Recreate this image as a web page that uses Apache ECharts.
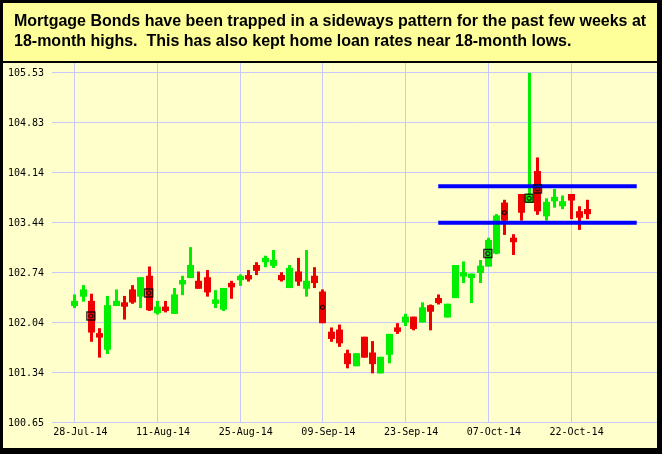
<!DOCTYPE html>
<html><head><meta charset="utf-8">
<script src="https://cdn.jsdelivr.net/npm/echarts@6/dist/echarts.min.js"></script>
<style>html,body{margin:0;padding:0;background:#fff}#c{width:662px;height:454px}</style>
</head><body><div id="c"></div>
<script>
// ---- data ----
const dates = ['28-Jul-14','29-Jul-14','30-Jul-14','31-Jul-14','01-Aug-14','04-Aug-14','05-Aug-14','06-Aug-14','07-Aug-14','08-Aug-14',
  '11-Aug-14','12-Aug-14','13-Aug-14','14-Aug-14','15-Aug-14','18-Aug-14','19-Aug-14','20-Aug-14','21-Aug-14','22-Aug-14',
  '25-Aug-14','26-Aug-14','27-Aug-14','28-Aug-14','29-Aug-14','02-Sep-14','03-Sep-14','04-Sep-14','05-Sep-14','08-Sep-14',
  '09-Sep-14','10-Sep-14','11-Sep-14','12-Sep-14','15-Sep-14','16-Sep-14','17-Sep-14','18-Sep-14','19-Sep-14','22-Sep-14',
  '23-Sep-14','24-Sep-14','25-Sep-14','26-Sep-14','29-Sep-14','30-Sep-14','01-Oct-14','02-Oct-14','03-Oct-14','06-Oct-14',
  '07-Oct-14','08-Oct-14','09-Oct-14','10-Oct-14','14-Oct-14','15-Oct-14','16-Oct-14','17-Oct-14','20-Oct-14','21-Oct-14',
  '22-Oct-14','23-Oct-14','24-Oct-14'];
const opens = [102.30,102.43,102.33,101.88,101.69,102.30,102.31,102.49,102.43,102.68,
  102.20,102.25,102.19,102.60,102.69,102.61,102.66,102.33,102.25,102.58,
  102.66,102.69,102.83,102.91,102.86,102.69,102.55,102.74,102.54,102.68,
  102.46,101.90,101.93,101.60,101.46,101.83,101.61,101.36,101.62,101.96,
  102.07,102.11,102.07,102.27,102.37,102.14,102.41,102.71,102.69,102.76,
  102.85,103.03,103.70,103.21,103.82,103.74,104.14,103.55,103.76,103.69,
  103.82,103.58,103.61];
const closes = [102.33,102.49,101.93,101.86,102.27,102.33,102.29,102.35,102.66,102.24,
  102.25,102.23,102.42,102.62,102.83,102.54,102.49,102.35,102.51,102.56,
  102.68,102.67,102.79,102.93,102.90,102.66,102.79,102.64,102.61,102.62,
  102.06,101.84,101.78,101.49,101.60,101.58,101.49,101.55,101.87,101.94,
  102.11,101.98,102.24,102.22,102.34,102.29,102.83,102.73,102.71,102.82,
  103.18,103.52,103.49,103.19,103.60,103.82,103.62,103.71,103.78,103.72,
  103.77,103.53,103.58];
const lows = [102.25,102.34,101.78,101.56,101.61,102.28,102.09,102.31,102.25,102.21,
  102.16,102.19,102.17,102.43,102.67,102.52,102.41,102.25,102.21,102.38,
  102.56,102.62,102.71,102.82,102.81,102.62,102.53,102.56,102.41,102.53,
  102.04,101.78,101.71,101.41,101.44,101.56,101.34,101.34,101.48,101.89,
  102.00,101.94,102.05,101.94,102.30,102.12,102.39,102.60,102.32,102.60,
  102.83,103.00,103.27,102.99,103.47,103.72,103.55,103.47,103.65,103.63,
  103.49,103.34,103.49];
const highs = [102.44,102.57,102.45,101.97,102.42,102.51,102.42,102.57,102.68,102.83,
  102.35,102.35,102.53,102.70,103.10,102.76,102.78,102.50,102.53,102.63,
  102.72,102.78,102.89,102.98,103.06,102.75,102.85,102.95,103.06,102.82,
  102.51,101.98,102.02,101.67,101.62,101.85,101.79,101.57,101.89,102.04,
  102.17,102.13,102.33,102.30,102.44,102.31,102.85,102.90,102.73,102.92,
  103.23,103.56,103.76,103.28,103.84,105.53,104.35,103.78,103.91,103.82,
  103.84,103.67,103.76];
const boxIdx = [2, 9, 50, 55, 56];
const boxVal = [102.14, 102.46, 103.01, 103.78, 103.91];
const ringIdx = [2, 9, 30, 50, 52, 55, 56];
const ringVal = [102.14, 102.46, 102.26, 103.01, 103.58, 103.78, 103.91];
const bandLevels = [103.95, 103.44];
const bandRange = [44, 68];
const yTickValues = [100.648, 101.345, 102.042, 102.739, 103.436, 104.134, 104.831, 105.528];
const yTickLabels = ['100.65', '101.34', '102.04', '102.74', '103.44', '104.14', '104.83', '105.53'];
const xTickIdx = [0, 10, 20, 30, 40, 50, 60];
const titleText = 'Mortgage Bonds have been trapped in a sideways pattern for the past few weeks at\n18-month highs.  This has also kept home loan rates near 18-month lows.';

// ---- chart ----
const gridColor = '#C8C8FF';
const up = '#00EE00', down = '#EE0000';
const yMin = 100.648, yMax = 105.667;
const chart = echarts.init(document.getElementById('c'), null, {renderer: 'canvas'});

const candleData = dates.map((d, i) => [i, opens[i], closes[i], lows[i], highs[i]]);

function hGrid(params, api) {
  const cs = params.coordSys;
  const y = Math.round(api.coord([0, api.value(1)])[1]) - 0.5;
  return {type: 'line', shape: {x1: cs.x, y1: y, x2: cs.x + cs.width, y2: y}, style: {stroke: gridColor, lineWidth: 1}};
}
function vGrid(params, api) {
  const cs = params.coordSys;
  const x = Math.round(api.coord([api.value(0), yMin])[0]) + 0.5;
  return {type: 'line', shape: {x1: x, y1: cs.y, x2: x, y2: cs.y + cs.height}, style: {stroke: gridColor, lineWidth: 1}};
}
function candle(params, api) {
  const x = api.value(0), o = api.value(1), c = api.value(2), l = api.value(3), h = api.value(4);
  const cx = Math.round(api.coord([x, o])[0]);
  const yo = api.coord([x, o])[1], yc = api.coord([x, c])[1];
  const yl = api.coord([x, l])[1], yh = api.coord([x, h])[1];
  const color = c >= o ? up : down;
  const top = Math.min(yo, yc) - 1.5, bot = Math.max(yo, yc) + 1.5;
  return {type: 'group', children: [
    {type: 'rect', shape: {x: cx - 1, y: yh, width: 3, height: yl - yh}, style: {fill: color}},
    {type: 'rect', shape: {x: cx - 3, y: top, width: 7, height: bot - top}, style: {fill: color}}
  ]};
}

const series = [
  {type: 'custom', data: yTickValues.map(v => [0, v]), encode: {x: 0, y: 1}, renderItem: hGrid, z: 1, silent: true, clip: false},
  {type: 'custom', data: xTickIdx.map(i => [i, yMin]), encode: {x: 0, y: 1}, renderItem: vGrid, z: 1, silent: true, clip: false},
  {type: 'custom', data: candleData, encode: {x: 0, y: [1, 2, 3, 4]}, renderItem: candle, z: 2, silent: true, clip: false}
];
bandLevels.forEach(lv => series.push({type: 'line', data: [[bandRange[0], lv], [bandRange[1], lv]], symbol: 'none', z: 3,
  lineStyle: {color: '#0000FF', width: 4}, silent: true}));
series.push({type: 'scatter', data: boxIdx.map((i, k) => [i, boxVal[k]]), symbol: 'rect', symbolSize: 8, z: 4, silent: true,
  itemStyle: {color: 'rgba(0,0,0,0)', borderColor: '#000', borderWidth: 1.5}});
series.push({type: 'scatter', data: ringIdx.map((i, k) => [i, ringVal[k]]), symbol: 'circle', symbolSize: 4, z: 5, silent: true,
  itemStyle: {color: 'rgba(0,0,0,0)', borderColor: '#000', borderWidth: 1.2}});

const option = {
  animation: false,
  backgroundColor: '#FFFFCC',
  title: {text: titleText, left: 9, top: 7,
    textStyle: {fontFamily: 'Liberation Sans', fontWeight: 'bold', fontSize: 16, lineHeight: 20, color: '#000'}},
  graphic: [
    {type: 'rect', shape: {x: 0, y: 0, width: 662, height: 62}, style: {fill: '#FFFF99'}, z: 0},
    {type: 'rect', shape: {x: 0, y: 61, width: 662, height: 2}, style: {fill: '#000'}, z: 100},
    {type: 'rect', shape: {x: 0, y: 0, width: 662, height: 3}, style: {fill: '#000'}, z: 100},
    {type: 'rect', shape: {x: 0, y: 0, width: 3, height: 454}, style: {fill: '#000'}, z: 100},
    {type: 'rect', shape: {x: 657, y: 0, width: 5, height: 454}, style: {fill: '#000'}, z: 100},
    {type: 'rect', shape: {x: 0, y: 448, width: 662, height: 6}, style: {fill: '#000'}, z: 100}
  ],
  grid: {left: 52, right: 5, top: 63, bottom: 31},
  xAxis: {type: 'value', min: -2.7, max: 70.45,
    splitLine: {show: false}, axisTick: {show: false},
    axisLine: {show: false},
    axisLabel: {customValues: xTickIdx, formatter: v => dates[Math.round(v)] || '',
      fontFamily: 'DejaVu Sans Mono', fontSize: 10, color: '#000', margin: 4, padding: [0, 0, 0, 12]}},
  yAxis: {type: 'value', min: yMin, max: yMax, scale: true,
    splitLine: {show: false}, axisTick: {show: false}, axisLine: {show: false},
    axisLabel: {customValues: yTickValues,
      formatter: v => { let b = 0; yTickValues.forEach((t, k) => { if (Math.abs(t - v) < Math.abs(yTickValues[b] - v)) b = k; }); return yTickLabels[b]; },
      fontFamily: 'DejaVu Sans Mono', fontSize: 10, color: '#000', margin: 8}},
  series: series
};
chart.setOption(option);
</script></body></html>
